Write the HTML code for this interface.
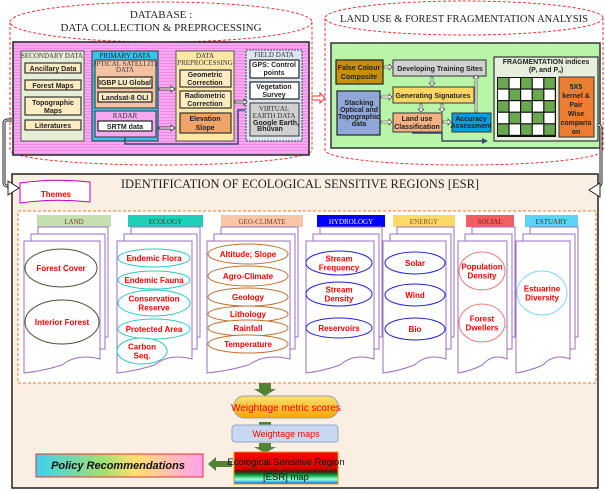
<!DOCTYPE html>
<html><head><meta charset="utf-8"><style>
html,body{margin:0;padding:0;background:#fff}
svg{display:block}
text{font-family:"Liberation Sans",sans-serif}
.cm{font-family:"Liberation Sans",sans-serif;font-weight:bold;font-size:7px;fill:#222;text-anchor:middle}
.ser{font-family:"Liberation Serif",serif;fill:#222;text-anchor:middle}
.red{font-family:"Liberation Sans",sans-serif;font-weight:bold;font-size:8px;fill:#f00;text-anchor:middle}
.hd{font-family:"Liberation Serif",serif;font-size:7px;text-anchor:middle}
</style></head><body>
<svg width="605" height="491" viewBox="0 0 605 491" xmlns="http://www.w3.org/2000/svg">
<defs>
<pattern id="pk" width="3" height="3" patternUnits="userSpaceOnUse"><rect width="3" height="3" fill="#f6a9f0"/><rect width="3" height="1" fill="#f08ae6"/></pattern>
<linearGradient id="wm" x1="0" y1="0" x2="0" y2="1"><stop offset="0" stop-color="#ffe070"/><stop offset="1" stop-color="#f2a800"/></linearGradient>
<linearGradient id="esr" x1="0" y1="0" x2="0" y2="1"><stop offset="0" stop-color="#ff0000"/><stop offset="0.5" stop-color="#e00000"/><stop offset="0.62" stop-color="#402010"/><stop offset="0.72" stop-color="#00a040"/><stop offset="0.85" stop-color="#a0ffd0"/><stop offset="0.93" stop-color="#40c0ff"/><stop offset="1" stop-color="#2020c0"/></linearGradient>
<linearGradient id="pol" x1="0" y1="0" x2="1" y2="0"><stop offset="0" stop-color="#40d0f0"/><stop offset="0.4" stop-color="#a0e070"/><stop offset="0.6" stop-color="#ffe070"/><stop offset="1" stop-color="#ffa0f0"/></linearGradient>
</defs>

<path d="M10,22 L10,150 A151,15 0 0 0 312,150 L312,22" fill="none" stroke="#e33" stroke-width="1" stroke-dasharray="3,2"/>
<ellipse cx="161" cy="22" rx="151" ry="20" fill="#fff" stroke="#e33" stroke-dasharray="3,2"/>
<text x="161" y="18" class="ser" font-size="11">DATABASE :</text>
<text x="161" y="31" class="ser" font-size="11">DATA COLLECTION  &amp; PREPROCESSING</text>
<rect x="13" y="42" width="296" height="113" fill="url(#pk)" stroke="#222" stroke-width="1.5"/>
<rect x="21" y="51" width="63" height="90" fill="#e6efd6" stroke="#555"/>
<text x="52" y="58" class="hd" fill="#333">SECONDARY DATA</text>
<g fill="#fcecc4" stroke="#333" stroke-width="1.2">
<rect x="25" y="63" width="56" height="10"/><rect x="25" y="80" width="56" height="10"/><rect x="25" y="97" width="56" height="18"/><rect x="25" y="120" width="56" height="10"/></g>
<text x="53" y="71" class="cm" font-size="6.5">Ancillary Data</text>
<text x="53" y="88" class="cm" font-size="6.5">Forest Maps</text>
<text x="53" y="105" class="cm" font-size="6.5">Topographic</text><text x="53" y="113" class="cm" font-size="6.5">Maps</text>
<text x="53" y="128" class="cm" font-size="6.5">Literatures</text>
<rect x="92" y="51" width="66" height="90" fill="#3cc0ec" stroke="#333"/>
<text x="125" y="58" class="hd" fill="#222">PRIMARY DATA</text>
<rect x="95" y="60" width="61" height="48" fill="#f4c1a2" stroke="#333"/>
<text x="125" y="66" class="hd" font-size="5.5" fill="#444">OPTICAL SATELLITE</text><text x="125" y="72" class="hd" font-size="5.5" fill="#444">DATA</text>
<rect x="98" y="77" width="54" height="11" fill="#fcecc4" stroke="#222" stroke-width="1.2"/>
<text x="125" y="85" class="cm" font-size="6.5">IGBP LU Global</text>
<rect x="98" y="92" width="54" height="10" fill="#fcecc4" stroke="#222" stroke-width="1.2"/>
<text x="125" y="100" class="cm" font-size="6.5">Landsat-8 OLI</text>
<rect x="95" y="111" width="61" height="26" fill="#f6a9f0" stroke="#333"/>
<text x="125" y="118" class="hd" font-size="5.5" fill="#333">RADAR</text>
<rect x="98" y="121" width="54" height="10" fill="#fff" stroke="#222" stroke-width="1.2"/>
<text x="125" y="129" class="cm" font-size="6.5">SRTM data</text>
<rect x="176" y="51" width="58" height="90" fill="#fde9a6" stroke="#555"/>
<text x="205" y="58" class="hd" fill="#333">DATA</text><text x="205" y="65" class="hd" fill="#333">PREPROCESSING</text>
<rect x="180" y="70" width="51" height="17" fill="#fcecc4" stroke="#333" stroke-width="1.2"/>
<text x="205" y="77" class="cm" font-size="6.5">Geometric</text><text x="205" y="85" class="cm" font-size="6.5">Correction</text>
<rect x="180" y="91" width="51" height="17" fill="#fcecc4" stroke="#333" stroke-width="1.2"/>
<text x="205" y="98" class="cm" font-size="6.5">Radiometric</text><text x="205" y="106" class="cm" font-size="6.5">Correction</text>
<rect x="180" y="113" width="51" height="20" fill="#f0a46a" stroke="#333" stroke-width="1.2"/>
<text x="205" y="121" class="cm" font-size="6.5">Elevation</text><text x="205" y="130" class="cm" font-size="6.5">Slope</text>
<rect x="246" y="50" width="56" height="91" fill="#dde6f0" stroke="#345" stroke-dasharray="2,1"/>
<text x="274" y="57" class="hd" fill="#333">FIELD DATA</text>
<rect x="250" y="60" width="49" height="18" fill="#fff" stroke="#222" stroke-width="1.2"/>
<text x="274" y="67" class="cm" font-size="6">GPS: Control</text><text x="274" y="75" class="cm" font-size="6">points</text>
<rect x="250" y="82" width="49" height="17" fill="#fff" stroke="#222" stroke-width="1.2"/>
<text x="274" y="89" class="cm" font-size="6">Vegetation</text><text x="274" y="97" class="cm" font-size="6">Survey</text>
<rect x="250" y="103" width="49" height="33" fill="#d0d0d0" stroke="#333"/>
<text x="274" y="111" class="hd" font-size="6" fill="#333">VIRTUAL</text><text x="274" y="118" class="hd" font-size="6" fill="#333">EARTH DATA</text>
<text x="276" y="125" class="cm" font-size="4">Google Earth,</text><text x="270" y="131" class="cm" font-size="4">Bhuvan</text>
<g fill="#fff" stroke="#333" stroke-width="0.8">
<path d="M159,88 h12 v-2 l4,3 -4,3 v-2 h-12z"/><path d="M159,127 h12 v-2 l4,3 -4,3 v-2 h-12z"/><path d="M235,101 h9 v-2 l3,3 -3,3 v-2 h-9z"/></g>
<path d="M125,137 v7 h113 v-34 h7" fill="none" stroke="#3a4a6a" stroke-width="1.5"/>
<path d="M312,96 h8 v-3 l5,5 -5,5 v-3 h-8z" fill="#fff" stroke="#e33"/>

<path d="M325,18 L325,150 A139,15 0 0 0 603,150 L603,18" fill="none" stroke="#e33" stroke-dasharray="3,2"/>
<ellipse cx="464" cy="18" rx="139" ry="17" fill="#fff" stroke="#e33" stroke-dasharray="3,2"/>
<text x="464" y="22" class="ser" font-size="10.5">LAND USE &amp; FOREST FRAGMENTATION ANALYSIS</text>
<rect x="331" y="43" width="269" height="105" fill="#b8f5a8" stroke="#333" stroke-width="1.5"/>
<rect x="336" y="60" width="47" height="24" fill="#c8900a" stroke="#222" stroke-width="1.2"/>
<text x="359" y="70" class="cm" font-size="6.5">False Colour</text><text x="359" y="79" class="cm" font-size="6.5">Composite</text>
<rect x="393" y="60" width="93" height="16" fill="#d0d0d0" stroke="#333"/>
<text x="440" y="71" class="cm" font-size="6.5" fill="#333">Developing Training Sites</text>
<rect x="337" y="91" width="43" height="44" fill="#8fa8d8" stroke="#222" stroke-width="1.2"/>
<text x="359" y="105" class="cm" font-size="5.5">Stacking</text><text x="359" y="112" class="cm" font-size="5.5">Optical and</text><text x="359" y="119" class="cm" font-size="5.5">Topographic</text><text x="359" y="126" class="cm" font-size="5.5">data</text>
<rect x="393" y="87" width="81" height="16" fill="#fdd766" stroke="#333"/>
<text x="433" y="98" class="cm" font-size="6.5">Generating Signatures</text>
<rect x="393" y="113" width="49" height="19" fill="#f4b183" stroke="#333"/>
<text x="417" y="121" class="cm" font-size="6.5">Land use</text><text x="417" y="129" class="cm" font-size="6.5">Classification</text>
<rect x="452" y="113" width="39" height="19" fill="#00a0e0" stroke="#333"/>
<text x="471" y="121" class="cm" font-size="5">Accuracy</text><text x="471" y="128" class="cm" font-size="5">Assessment</text>
<g fill="#fff" stroke="#333" stroke-width="0.6">
<path d="M384,66 h5 v-2 l3,3 -3,3 v-2 h-5z"/><path d="M381,96 h8 v-2 l3,3 -3,3 v-2 h-8z"/><path d="M381,121 h8 v-2 l3,3 -3,3 v-2 h-8z"/><path d="M443,121 h5 v-2 l3,3 -3,3 v-2 h-5z"/>
<path d="M431,77 v6 h-2 l3,3 3,-3 h-2 v-6z"/><path d="M420,104 v5 h-2 l3,3 3,-3 h-2 v-5z"/><path d="M441,104 v5 h-2 l3,3 3,-3 h-2 v-5z"/><path d="M475,112 v-34 h-2 l3,-3 3,3 h-2 v34z"/></g>
<path d="M412,133 h30 v8 h40" fill="none" stroke="#3a4a6a" stroke-width="1.5"/>
<path d="M482,138 l6,3 -6,3z" fill="#3a4a6a"/>
<rect x="494" y="57" width="104" height="84" fill="#e6efdc" stroke="#333" stroke-width="1.2"/>
<text x="546" y="64" class="cm" font-size="6">FRAGMENTATION indices</text>
<text x="546" y="72" class="cm" font-size="5.5">(P<tspan font-size="4" dy="1">f</tspan><tspan dy="-1"> and P</tspan><tspan font-size="4" dy="1">ff</tspan><tspan dy="-1">)</tspan></text>
<rect x="497" y="77" width="59" height="60" fill="#111"/>
<g id="grid"></g>
<rect x="559" y="77" width="35" height="60" fill="#ed7d31" stroke="#333"/>
<text x="576" y="89" class="cm" font-size="6.5">5X5</text><text x="576" y="98" class="cm" font-size="6.5">kernel &amp;</text><text x="576" y="107" class="cm" font-size="6.5">Pair</text><text x="576" y="116" class="cm" font-size="6.5">Wise</text><text x="576" y="125" class="cm" font-size="6.5">comparis</text><text x="576" y="134" class="cm" font-size="6.5">on</text>

<path d="M13,120 h-6 a3,3 0 0 0 -3,3 v60 a3,3 0 0 0 3,3 h6" fill="none" stroke="#222" stroke-width="3"/>
<path d="M13,120 h-6 a3,3 0 0 0 -3,3 v60 a3,3 0 0 0 3,3 h6" fill="none" stroke="#fff" stroke-width="1"/>
<path d="M600,125 h-2 a3,3 0 0 1 3,3 v55 a3,3 0 0 1 -3,3 h-5" fill="none" stroke="#222" stroke-width="3"/>
<path d="M600,125 h-2 a3,3 0 0 1 3,3 v55 a3,3 0 0 1 -3,3 h-5" fill="none" stroke="#fff" stroke-width="1"/>

<rect x="12" y="174" width="586" height="314" fill="#fbeee3" stroke="#222" stroke-width="1.5"/>
<path d="M8,181 l11,7 -11,7z M600,183 l-11,7 11,7z" fill="#fff" stroke="#222"/>
<text x="300" y="188" class="ser" font-size="12.5">IDENTIFICATION OF ECOLOGICAL SENSITIVE REGIONS [ESR]</text>
<path d="M20,183 q35,-5 70,-1 v20 q-35,-4 -70,1z" fill="#fff" stroke="#c000c0"/>
<text x="56" y="197" class="red" font-size="8">Themes</text>
<rect x="18" y="211" width="578" height="172" fill="#fff" stroke="#e07a30" stroke-dasharray="3,2"/>

<g id="cols"></g>

<g fill="#548235">
<path d="M259,383 h12 v6 h5 l-11,7 -11,-7 h5z"/>
<path d="M259,422 h12 v4 h5 l-11,6 -11,-6 h5z"/>
<path d="M259,443 h12 v4 h5 l-11,6 -11,-6 h5z"/>
<path d="M232,461 h-16 v-4 l-8,7 8,7 v-4 h16z"/>
</g>
<rect x="234" y="396" width="104" height="22" rx="10" fill="url(#wm)" stroke="#a0a0a0"/>
<text x="286" y="411" font-size="10" fill="#f00" text-anchor="middle">Weightage metric scores</text>
<rect x="232" y="425" width="106" height="17" rx="3" fill="#c8d8f0" stroke="#90a8c8"/>
<text x="286" y="437" font-size="9" fill="#f00" text-anchor="middle">Weightage maps</text>
<rect x="234" y="452" width="104" height="32" fill="url(#esr)" stroke="#e0a000"/>
<text x="286" y="465" font-size="9.5" fill="#111" text-anchor="middle">Ecological Sensitive Region</text>
<text x="286" y="480" font-size="9.5" fill="#111" text-anchor="middle">[ESR] map</text>
<rect x="36" y="454" width="167" height="23" fill="url(#pol)" stroke="#f03030"/>
<text x="118" y="469" font-family="Liberation Serif,serif" font-style="italic" font-weight="bold" font-size="11" fill="#111" text-anchor="middle">Policy Recommendations</text>
</svg>
<script>
var NS="http://www.w3.org/2000/svg";
function el(p,t,a){var e=document.createElementNS(NS,t);for(var k in a)e.setAttribute(k,a[k]);p.appendChild(e);return e;}
var g=document.getElementById('grid');
for(var r=0;r<5;r++)for(var c=0;c<5;c++){el(g,'rect',{x:498+c*11.6,y:78+r*11.6,width:10.4,height:10.4,fill:((r+c)%2==0)?'#6aa84f':'#fff'});}
var cols=document.getElementById('cols');
var C=[
{h:"LAND",hx:37,hw:74,hc:"#c5dfb0",tc:"#7a4030",fx:24,fw:76,ec:"#405a30",e:[[61,268,36,19,["Forest Cover"]],[62,322,37,22,["Interior Forest"]]]},
{h:"ECOLOGY",hx:128,hw:75,hc:"#1dd1b9",tc:"#6a2020",fx:117,fw:75,ec:"#30c8c0",e:[[154,258,36,9,["Endemic Flora"]],[154,280,36,9,["Endemic Fauna"]],[154,303,36,13,["Conservation","Reserve"]],[154,329,36,10,["Protected Area"]],[142,351,25,13,["Carbon","Seq."]]]},
{h:"GEO-CLIMATE",hx:221,hw:82,hc:"#f6c6a6",tc:"#8a3a20",fx:207,fw:83,ec:"#c07030",e:[[248,254,40,10,["Altitude; Slope"]],[248,276,40,10,["Agro-Climate"]],[248,297,40,9,["Geology"]],[248,314,40,8,["Lithology"]],[248,328,40,8,["Rainfall"]],[248,344,40,9,["Temperature"]]]},
{h:"HYDROLOGY",hx:317,hw:68,hc:"#0000ff",tc:"#fff",fx:306,fw:68,ec:"#2020e0",e:[[339,263,33,12,["Stream","Frequency"]],[339,294,33,12,["Stream","Density"]],[339,328,33,10,["Reservoirs"]]]},
{h:"ENERGY",hx:393,hw:62,hc:"#ffd966",tc:"#7a5020",fx:383,fw:63,ec:"#2020e0",e:[[415,263,30,11,["Solar"]],[415,295,30,11,["Wind"]],[415,329,30,11,["Bio"]]]},
{h:"SOCIAL",hx:466,hw:48,hc:"#f06060",tc:"#7a1010",fx:458,fw:49,ec:"#f08080",e:[[482,271,23,19,["Population","Density"]],[482,323,23,19,["Forest","Dwellers"]]]},
{h:"ESTUARY",hx:525,hw:53,hc:"#5bd5f5",tc:"#6a2020",fx:516,fw:54,ec:"#80d8f8",e:[[542,293,25,22,["Estuarine","Diversity"]]]}
];
C.forEach(function(o){
 el(cols,'rect',{x:o.hx,y:215,width:o.hw,height:12,fill:o.hc});
 var t=el(cols,'text',{x:o.hx+o.hw/2,y:224,'class':'hd','font-size':7,fill:o.tc});t.textContent=o.h;
 el(cols,'rect',{x:o.fx+14,y:227,width:o.fw-6,height:110,fill:'#fff',stroke:'#9b6fc0'});
 el(cols,'rect',{x:o.fx+7,y:234,width:o.fw-2,height:115,fill:'#fff',stroke:'#9b6fc0'});
 var x=o.fx,w=o.fw;
 el(cols,'path',{d:"M"+x+",241 h"+w+" v118 q-"+(w*0.3)+",-6 -"+(w*0.5)+",6 q-"+(w*0.25)+",6 -"+(w*0.5)+",8 z",fill:'#fff',stroke:'#9b6fc0'});
 o.e.forEach(function(e){
  el(cols,'ellipse',{cx:e[0],cy:e[1],rx:e[2],ry:e[3],fill:'#fff',stroke:o.ec});
  var n=e[4].length;
  e[4].forEach(function(s,i){var tt=el(cols,'text',{x:e[0],y:e[1]+3+(i-(n-1)/2)*9,'class':'red','font-size':(s.length>13?7:7.5)});tt.textContent=s;});
 });
});
</script>
</body></html>
